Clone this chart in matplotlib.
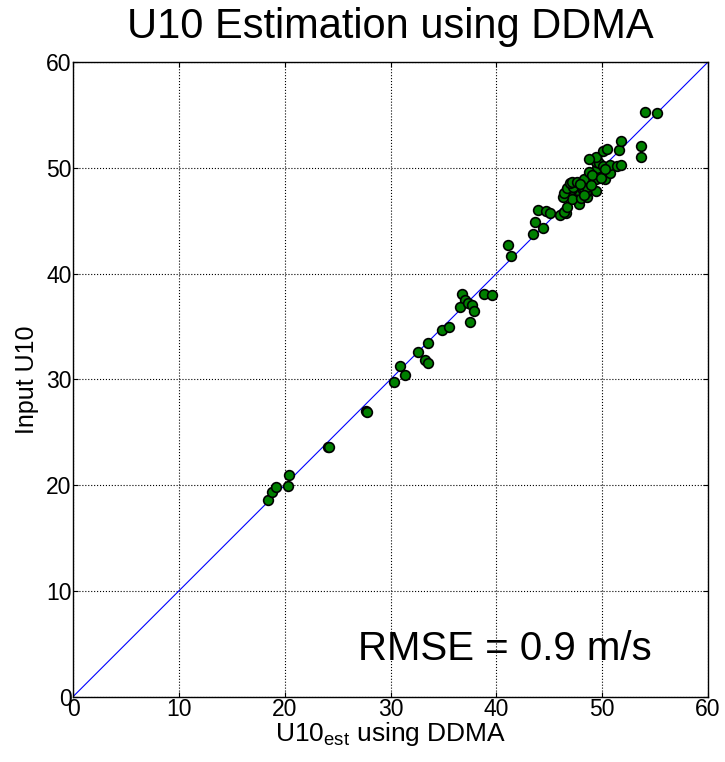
import matplotlib
matplotlib.use("Agg")
import matplotlib.pyplot as plt

plt.rcParams['font.family'] = ['Liberation Sans', 'DejaVu Sans']

# estimated U10 (x) vs input U10 (y)
u10_est = [18.4, 18.8, 19.2, 20.35, 20.4,
           24.1, 24.2,
           27.7, 27.8, 30.3, 30.85, 31.4, 32.6, 33.5, 33.3, 33.55, 34.85, 35.5,
           36.8, 37.0, 36.6, 37.3, 37.74, 37.87, 37.5, 38.8, 39.6,
           41.1, 41.4, 43.48, 43.64, 44.36, 43.98, 44.68, 45.08,
           46.0, 46.57, 46.4, 46.72, 47.83, 47.13, 47.98, 48.58, 49.46, 48.45,
           47.6, 48.14, 47.13, 46.25, 46.4, 46.66, 47.28, 46.97, 47.16, 47.6,
           48.23, 48.6, 48.93, 48.27, 49.12, 49.37, 50.28, 50.7, 49.88, 49.5,
           48.77, 49.46, 49.74, 50.12, 50.7, 51.39, 51.73, 49.4, 48.74,
           50.1, 50.5, 51.6, 51.8, 53.7, 53.7, 54.0, 55.2,
           49.0, 49.9, 48.9, 50.3, 47.9, 48.3]
u10_in = [18.56, 19.38, 19.85, 19.9, 20.93,
          23.6, 23.65,
          26.97, 26.9, 29.74, 31.22, 30.4, 32.58, 33.46, 31.8, 31.5, 34.7, 34.97,
          38.09, 37.5, 36.83, 37.18, 37.05, 36.45, 35.39, 38.06, 38.0,
          42.72, 41.62, 43.73, 44.84, 44.27, 45.97, 45.9, 45.69,
          45.53, 45.69, 45.81, 46.31, 46.6, 47.04, 47.1, 47.26, 47.83, 47.73,
          47.89, 47.89, 47.96, 47.26, 47.58, 48.05, 48.2, 48.58, 48.65, 48.62,
          48.14, 48.2, 48.68, 48.96, 49.34, 48.93, 48.93, 49.53, 49.47, 49.94,
          49.6, 50.54, 50.44, 50.16, 50.3, 50.16, 50.3, 51.04, 50.8,
          51.55, 51.77, 51.67, 52.55, 52.05, 51.0, 55.26, 55.2,
          49.3, 49.0, 48.4, 49.9, 48.5, 47.4]

ticks = [0, 10, 20, 30, 40, 50, 60]

fig = plt.figure(figsize=(7.25, 7.62), dpi=100)
ax = fig.add_axes([0.1007, 0.0857, 0.8759, 0.8329])

ax.plot([0, 60], [0, 60], color='blue', lw=0.8)
ax.plot(u10_est, u10_in, 'o', ms=7, mfc=(0, 0.5, 0), mec='black', mew=1.2)

ax.set_xlim(0, 60)
ax.set_ylim(0, 60)
ax.set_xticks(ticks)
ax.set_yticks(ticks)
ax.grid(True, color='black', linestyle=':', linewidth=0.8)
ax.tick_params(direction='in', top=True, right=True, labelsize=16.5, pad=1)
for s in ax.spines.values():
    s.set_linewidth(1.0)

ax.set_title('U10 Estimation using DDMA', fontsize=30, pad=17)
ax.set_xlabel('U10$_{\\mathregular{est}}$ using DDMA', fontsize=19, labelpad=-1)
ax.set_ylabel('Input U10', fontsize=18, labelpad=5)
ax.text(40.8, 3.5, 'RMSE = 0.9 m/s', fontsize=29, ha='center', va='baseline')

fig.savefig('out.png', dpi=100)
